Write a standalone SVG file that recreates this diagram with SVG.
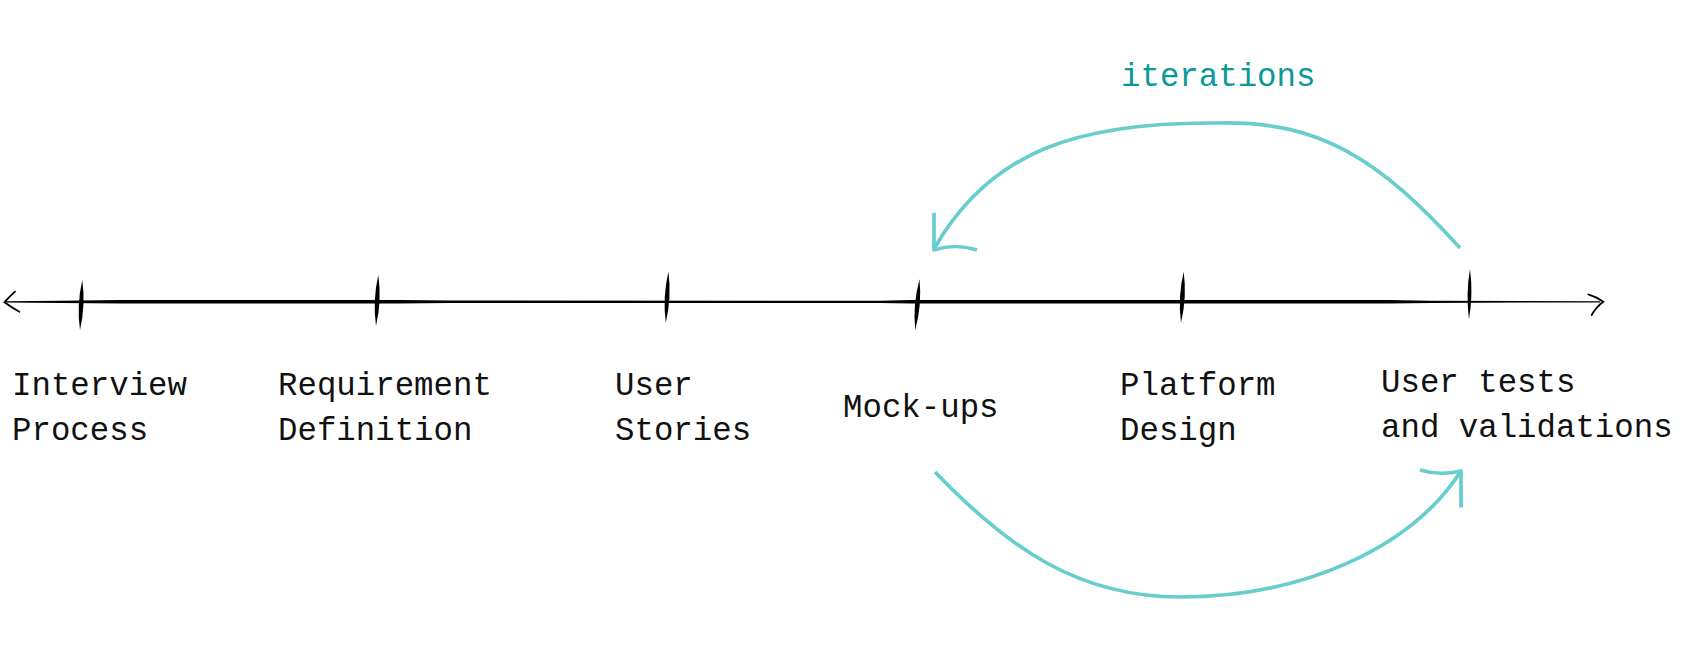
<svg xmlns="http://www.w3.org/2000/svg" width="1682" height="647" viewBox="0 0 1682 647">
  <style>
    .bg { fill: #ffffff; }
    .label { font-family: "Liberation Mono", "DejaVu Sans Mono", monospace; font-size: 32.4px; fill: #111111; }
    .note { font-family: "Liberation Mono", "DejaVu Sans Mono", monospace; font-size: 32.4px; fill: #0a9898; }
    .tick { fill: #000000; }
    .axis { fill: #000000; }
    .head { stroke: #000000; fill: none; stroke-width: 1.8; stroke-linecap: round; }
    .loop { stroke: #68cdcd; stroke-width: 3.7; fill: none; stroke-linecap: butt; stroke-linejoin: round; }
  </style>
  <rect class="bg" x="0" y="0" width="1682" height="647"/>

  <g id="connectors">
    <g id="axis">
      <polygon class="axis" points="5,301.2 60,300.7 120,300.1 400,300.1 450,300.6 880,300.7 910,300.0 1390,300.0 1430,300.7 1600,301.2 1600,302.4 1430,302.9 1390,303.6 910,303.6 880,302.9 450,303.0 400,303.5 120,303.5 60,302.9 5,302.4"/>
      <path class="head" d="M15,291.7 Q9,297 4.5,302.2 Q11,307 19.3,311.7"/>
      <path class="head" d="M1588.3,294.3 Q1597,297 1603.3,301.7 Q1596,307 1591.7,315"/>
    </g>
    <g id="iteration-back">
      <path class="loop" d="M1460,248 C1380,160 1320,120 1217,123 C1080,122 990,150 934,249"/>
      <path class="loop" d="M934,212.7 L934,250 Q955,243 977,250"/>
    </g>
    <g id="iteration-forward">
      <path class="loop" d="M935,472 C1010,550 1080,597 1180,597 C1300,597 1410,550 1461,471"/>
      <path class="loop" d="M1461,507.5 L1461,471 Q1440,476 1420,470"/>
    </g>
    <text id="iterations-label" class="note" x="1121" y="86">iterations</text>
  </g>

  <g id="node-interview">
    <path class="tick" d="M82.3,280 Q85.7,305 80,330 Q76.5,305 82.3,280 Z"/>
    <text class="label" x="12" y="395">Interview</text>
    <text class="label" x="12" y="440">Process</text>
  </g>
  <g id="node-requirement">
    <path class="tick" d="M378.3,275 Q381.9,300.5 376,326 Q372.5,300.5 378.3,275 Z"/>
    <text class="label" x="278" y="395">Requirement</text>
    <text class="label" x="278" y="440">Definition</text>
  </g>
  <g id="node-stories">
    <path class="tick" d="M668.4,271.7 Q671.8,297 665.8,322.7 Q662.4,297 668.4,271.7 Z"/>
    <text class="label" x="615" y="395">User</text>
    <text class="label" x="615" y="440">Stories</text>
  </g>
  <g id="node-mockups">
    <path class="tick" d="M919.5,279.3 Q922.1,304.6 915.2,330 Q912.6,304.6 919.5,279.3 Z"/>
    <text class="label" x="843" y="417">Mock-ups</text>
  </g>
  <g id="node-platform">
    <path class="tick" d="M1183.7,271.7 Q1187.1,297 1181,322.7 Q1177.6,297 1183.7,271.7 Z"/>
    <text class="label" x="1120" y="395">Platform</text>
    <text class="label" x="1120" y="440">Design</text>
  </g>
  <g id="node-usertests">
    <path class="tick" d="M1470,269 Q1473.3,294 1469,319.3 Q1465.7,294 1470,269 Z"/>
    <text class="label" x="1381" y="392">User tests</text>
    <text class="label" x="1381" y="437">and validations</text>
  </g>
</svg>
